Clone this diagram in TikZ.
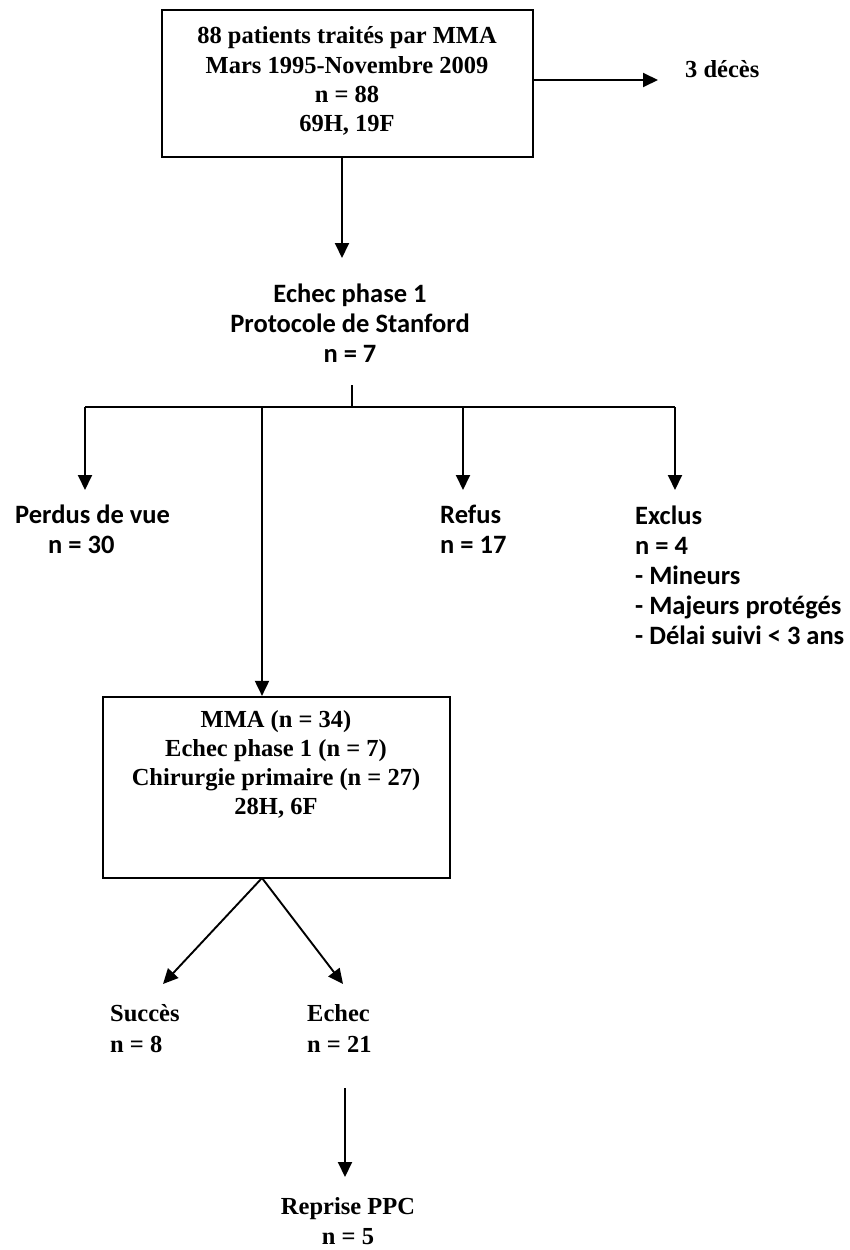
\documentclass[tikz,border=0pt]{standalone}
\usepackage{fontspec}
\setmainfont{Liberation Serif}
\newfontfamily\calib{Carlito}
\usetikzlibrary{arrows.meta,calc}
\begin{document}
\begin{tikzpicture}[x=1pt,y=-1pt,
  box/.style={draw, line width=2.2pt, inner sep=0pt},
  ln/.style={line width=1.9pt},
  arr/.style={line width=1.9pt, -{Triangle[length=15pt,width=14pt]}},
  serif/.style={font=\bfseries\fontsize{24.5}{29.2}\selectfont, align=center, inner sep=0pt},
  sans/.style={font=\calib\bfseries\fontsize{26.5}{29.8}\selectfont, inner sep=0pt}]
\useasboundingbox (0,0) rectangle (850,1250);
% top box
\node[box, minimum width=371pt, minimum height=147pt] (top) at (347.5,83.5) {};
\node[serif] (toptext) at (347,81)
  {88 patients traités par MMA\\Mars 1995-Novembre 2009\\n = 88\\69H, 19F};
\node[serif, anchor=west] (deces) at (685,69) {3 décès};
\coordinate (dtip) at (658,80);
\draw[arr] (top.east |- dtip) -- (dtip);
% echec phase 1
\node[sans, align=center] (e1) at (350,323) {Echec phase 1\\Protocole de Stanford\\n = 7};
\coordinate (t1) at (342,258);
\draw[arr] (top.south -| t1) -- (t1);
% branching
\coordinate (jtop) at (352,385);
\coordinate (j) at (352,407);
\coordinate (jl) at (85,407);
\coordinate (jm) at (262,407);
\coordinate (jr1) at (463,407);
\coordinate (jr) at (675,407);
\draw[ln] (jtop) -- (j);
\draw[ln] (jl) -- (jr);
\node[sans, align=left, anchor=north west] (perdus) at (15,505) {Perdus de vue\\\hspace*{33pt}n = 30};
\node[sans, align=left, anchor=north west] (refus) at (440,505) {Refus\\n = 17};
\node[sans, align=left, anchor=north west] (exclus) at (635,506) {Exclus\\n = 4\\- Mineurs\\- Majeurs protégés\\- Délai suivi < 3 ans};
\draw[arr] (jl) -- (jl |- 0,490);
\draw[arr] (jr1) -- (jr1 |- 0,490);
\draw[arr] (jr) -- (jr |- 0,490);
% MMA box
\node[box, minimum width=347pt, minimum height=181pt] (mma) at (276.5,787.5) {};
\node[serif, anchor=north] (mmatext) at (276,710) {MMA (n = 34)\\Echec phase 1 (n = 7)\\Chirurgie primaire (n = 27)\\28H, 6F};
\draw[arr] (jm) -- (jm |- mma.north);
% outcomes
\node[serif, align=left, anchor=north west, font=\bfseries\fontsize{24.5}{31.5}\selectfont] (succes) at (110,1004) {Succès\\n = 8};
\node[serif, align=left, anchor=north west, font=\bfseries\fontsize{24.5}{31.5}\selectfont] (echec) at (307,1004) {Echec\\n = 21};
\coordinate (ms) at (262,878);
\coordinate (ts) at (163,984);
\coordinate (te) at (343,984);
\draw[arr] (ms) -- (ts);
\draw[arr] (ms) -- (te);
\node[serif, anchor=north, font=\bfseries\fontsize{24.5}{30}\selectfont] (reprise) at (348,1197) {Reprise PPC\\n = 5};
\coordinate (rs) at (345,1088);
\coordinate (rt) at (345,1177);
\draw[arr] (rs) -- (rt);
\end{tikzpicture}
\end{document}
